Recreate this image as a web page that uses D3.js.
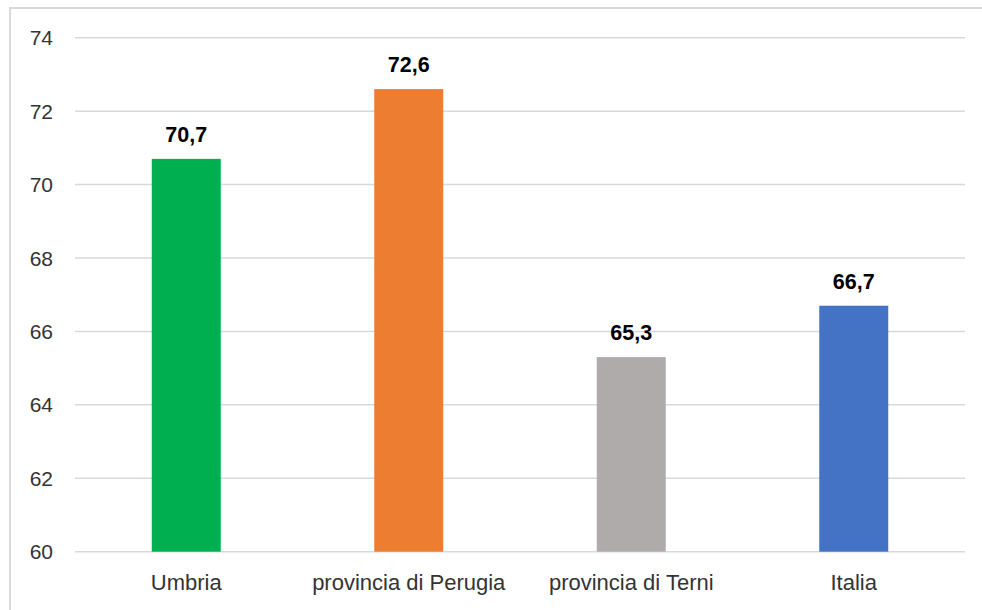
<!DOCTYPE html>
<html><head><meta charset="utf-8">
<script src="https://cdn.jsdelivr.net/npm/d3@7"></script>
<style>body{margin:0;background:#fff}svg{display:block}</style>
</head><body><svg id="c" width="982" height="610"></svg>
<script>
const categories = ["Umbria", "provincia di Perugia", "provincia di Terni", "Italia"];
const values = [70.7, 72.6, 65.3, 66.7];
const valueLabels = ["70,7", "72,6", "65,3", "66,7"];
const colors = ["#00b050", "#ed7d31", "#afabab", "#4472c4"];
const yTicks = [60, 62, 64, 66, 68, 70, 72, 74];

const svg = d3.select("#c");
svg.append("rect").attr("x", 10).attr("y", 8).attr("width", 990).attr("height", 620)
  .attr("fill", "#fff").attr("stroke", "#d9d9d9").attr("stroke-width", 2);

const x = d3.scaleBand().domain(categories).range([75, 965]).paddingInner(0.69).paddingOuter(0.345);
const y = d3.scaleLinear().domain([60, 74]).range([551.7, 37.7]);

const font = "'Liberation Sans', Arial, sans-serif";

svg.append("g").selectAll("line").data(yTicks).join("line")
  .attr("x1", 75).attr("x2", 965)
  .attr("y1", d => y(d)).attr("y2", d => y(d))
  .attr("stroke", "#d9d9d9").attr("stroke-width", 1.5);

svg.append("g").selectAll("text").data(yTicks).join("text")
  .attr("x", 53).attr("y", d => y(d)).attr("dy", "0.36em")
  .attr("text-anchor", "end").attr("font-family", font).attr("font-size", 21)
  .attr("fill", "#333").text(d => d);

svg.append("g").selectAll("rect").data(values).join("rect")
  .attr("x", (d, i) => x(categories[i])).attr("width", x.bandwidth())
  .attr("y", d => y(d)).attr("height", d => y(60) - y(d))
  .attr("fill", (d, i) => colors[i]);

svg.append("g").selectAll("text").data(values).join("text")
  .attr("x", (d, i) => x(categories[i]) + x.bandwidth() / 2)
  .attr("y", d => y(d) - 17)
  .attr("text-anchor", "middle").attr("font-family", font).attr("font-size", 21.5)
  .attr("font-weight", "bold").attr("fill", "#000")
  .text((d, i) => valueLabels[i]);

svg.append("g").selectAll("text").data(categories).join("text")
  .attr("x", d => x(d) + x.bandwidth() / 2).attr("y", 590)
  .attr("text-anchor", "middle").attr("font-family", font).attr("font-size", 22)
  .attr("fill", "#333").text(d => d);
</script></body></html>
